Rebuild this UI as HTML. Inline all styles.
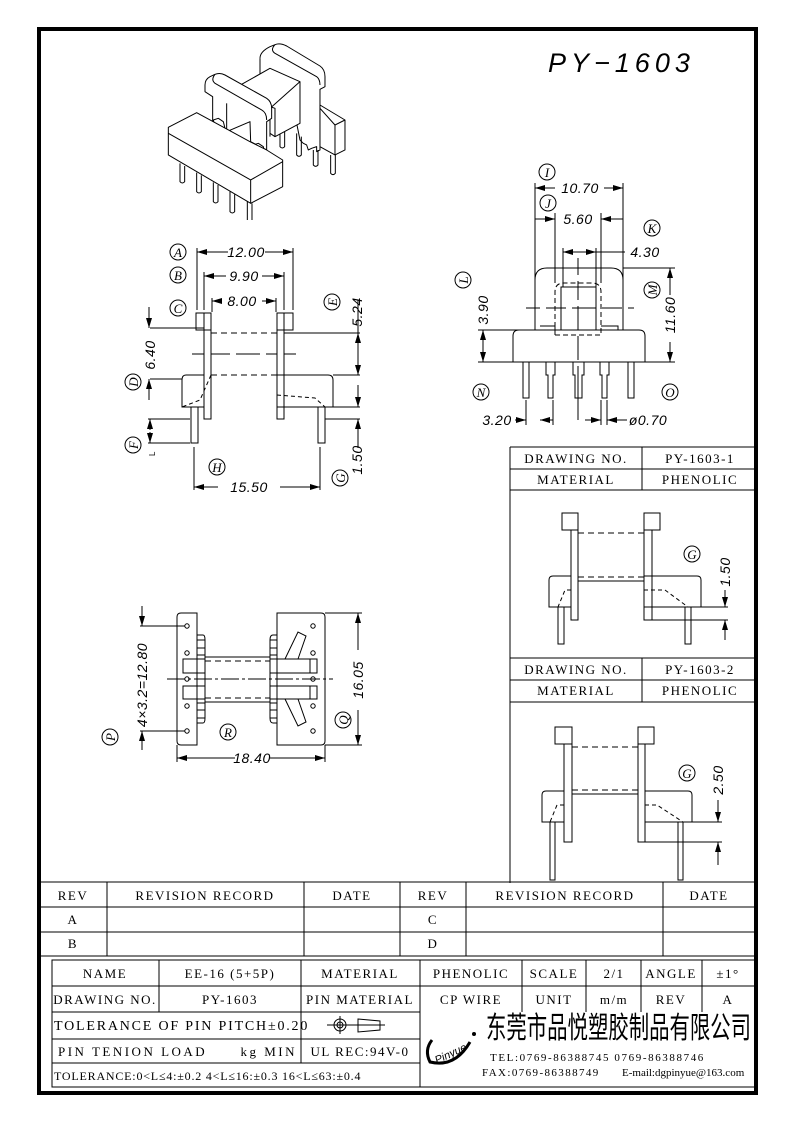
<!DOCTYPE html>
<html><head><meta charset="utf-8"><style>
html,body{margin:0;padding:0;background:#fff}
svg{display:block}
.t{font-family:"Liberation Serif","Noto Serif CJK SC",serif;font-size:13px;letter-spacing:1.5px}
.d{font-family:"Liberation Sans",sans-serif;font-style:italic;font-size:14px;letter-spacing:0.5px}
.c{font-family:"Liberation Serif",serif;font-style:italic;font-size:13px}
</style></head><body>
<svg width="793" height="1123" viewBox="0 0 793 1123" xmlns="http://www.w3.org/2000/svg">
<defs>
<marker id="a" viewBox="0 0 10 6" refX="10" refY="3" markerWidth="10" markerHeight="6" markerUnits="userSpaceOnUse" orient="auto-start-reverse"><path d="M0,0 L10,3 L0,6 z" fill="#000"/></marker>
</defs>
<rect x="0" y="0" width="793" height="1123" fill="#fff"/>
<rect x="39" y="29" width="717" height="1064" fill="none" stroke="#000" stroke-width="4"/>
<text x="548" y="72" font-family="Liberation Sans,sans-serif" font-style="italic" font-size="27" letter-spacing="5">PY−1603</text>

<g fill="none" stroke="#000" stroke-width="1">
<g transform="translate(160,40) scale(0.3333)" stroke-width="3" stroke-linejoin="round">
 <path d="M300,55 Q300,35 330,20 L345,14 Q360,8 380,18 L480,78 Q495,88 495,110 L495,140 L480,148 L480,330 L470,335 L470,320 L455,325 L445,330 L440,315 L430,310 L420,300 L410,250 L400,260 L395,250" fill="#fff"/>
 <path d="M300,55 L300,130"/>
 <path d="M345,14 Q330,30 345,40 L470,110 Q480,118 480,135"/>
 <path d="M480,195 L555,240 L555,330 L525,345 L480,320 Z" fill="#fff"/>
 <path d="M525,255 L555,240 M525,255 L525,345 M480,205 L525,255"/>
 <path d="M360,265 L360,320 Q367,328 374,320 L374,265"/>
 <path d="M410,280 L410,345 Q417,353 424,345 L424,290"/>
 <path d="M460,330 L460,375 Q467,383 474,375 L474,330"/>
 <path d="M512,345 L512,400 Q519,408 526,400 L526,345"/>
 <path d="M215,150 L330,85 L420,125 L420,250 L345,290 L330,280" fill="#fff"/>
 <path d="M330,205 L420,125 M330,205 L330,290"/>
 <path d="M330,200 L345,205 L345,290"/>
 <path d="M135,135 Q135,118 150,110 L165,103 Q180,97 195,105 L320,175 Q335,185 335,205 L335,235 L320,245 L320,330 L272,305 L270,245 L200,275 L158,250 L158,170 L135,155 Z" fill="#fff"/>
 <path d="M165,103 Q152,120 165,130 L305,210 Q320,218 320,240"/>
 <path d="M200,190 L200,270"/>
 <path d="M160,240 L175,235 L190,245 L195,265 L180,270 L165,260 Z" fill="#fff"/>
 <path d="M280,315 L295,310 L310,320 L313,335 L298,340 L283,330 Z" fill="#fff"/>
 <path d="M25,262 L110,218 L270,305 L320,330 L368,360 L368,440 L272,490 L25,345 Z" fill="#fff"/>
 <path d="M25,280 L272,420 L368,365 M272,420 L272,490"/>
 <path d="M60,370 L60,425 Q67,433 74,425 L74,378"/>
 <path d="M110,398 L110,455 Q117,463 124,455 L124,406"/>
 <path d="M160,427 L160,485 Q167,493 174,485 L174,435"/>
 <path d="M210,455 L210,515 Q217,523 224,515 L224,463"/>
 <path d="M262,484 L262,540 M276,490 L276,540"/>
</g>

<rect x="196" y="313" width="15" height="17"/>
<rect x="277" y="313" width="16" height="17"/>
<rect x="204" y="313" width="7" height="106"/>
<rect x="277" y="313" width="7" height="106"/>
<path d="M211,333 H277 M211,375 H277" stroke-dasharray="6,4"/>
<path d="M192,354 H204 M211,354 H230 M236,354 H260 M266,354 H277 M284,354 H296" />
<path d="M186,375 H204 L204,407 H182 V380 Q182,375 186,375 Z"/>
<path d="M277,375 H328 Q333,375 333,380 V407 H277"/>
<path d="M211,375 L200,400 L182,407" stroke-dasharray="4,3"/>
<path d="M277,395 L315,398 L325,407" stroke-dasharray="4,3"/>
<rect x="191" y="407" width="7" height="36"/>
<rect x="318" y="407" width="7" height="36"/>
<path d="M197,248 V310 M293,248 V310 M204,272 V310 M284,272 V310 M212,298 V312 M276,298 V312"/>
<path d="M197,252 H228 M265,252 H293" marker-start="url(#a)" marker-end="url(#a)"/>
<path d="M204,276 H226 M262,276 H284" marker-start="url(#a)" marker-end="url(#a)"/>
<path d="M212,301 H222 M262,301 H276" marker-start="url(#a)" marker-end="url(#a)"/>
<path d="M150,328 H204 M150,379 H182 M284,333 H360 M333,375 H360 M333,407 H360 M325,419 H360 M148,419 H190 M148,443 H190"/>
<path d="M149,307 V328" marker-end="url(#a)"/>
<path d="M149,400 V379" marker-end="url(#a)"/>
<path d="M358,300 V333" /><path d="M358,345 V375" marker-end="url(#a)"/><path d="M358,360 V333" marker-end="url(#a)"/>
<path d="M358,385 V407" marker-end="url(#a)"/><path d="M358,440 V419" marker-end="url(#a)"/><path d="M358,440 V448"/>
<path d="M150,430 V419" marker-end="url(#a)"/><path d="M150,432 V443" marker-end="url(#a)"/>
<path d="M194,447 V490 M320,447 V490"/>
<path d="M194,487 H218 M280,487 H320" marker-start="url(#a)" marker-end="url(#a)"/>

<path d="M535,330 V280 Q535,268 547,268 H611 Q623,268 623,280 V330"/>
<path d="M555,335 V292 Q555,283 564,283 H592 Q601,283 601,292 V335 Z" stroke-dasharray="5,3"/>
<rect x="561" y="287" width="35" height="43"/>
<path d="M540,326 H555 V330 M601,326 H618 V330"/>
<path d="M519,330 H639 Q645,330 645,336 V362 H513 V336 Q513,330 519,330 Z"/>
<path d="M578,258 V275 M578,281 V300 M578,306 V330 M578,336 V360 M578,366 V420" />
<path d="M526,308 H540 M546,308 H566 M572,308 H596 M602,308 H622 M628,308 H634"/>
<rect x="523" y="362" width="6" height="36"/>
<path d="M546,362 V375 H548 V398 H553 V375 H555 V362"/>
<path d="M573,362 V375 H575 V398 H582 V375 H584 V362"/>
<path d="M600,362 V375 H602 V398 H607 V375 H609 V362"/>
<rect x="628" y="362" width="6" height="36"/>
<path d="M535,183 V330 M623,183 V330 M555,213 V283 M601,213 V283 M563,248 V287 M596,248 V287"/>
<path d="M535,188 H555 M604,188 H623" marker-start="url(#a)" marker-end="url(#a)"/>
<path d="M535,219 H555" marker-end="url(#a)"/><path d="M623,219 H601" marker-end="url(#a)"/>
<path d="M563,252 H596" marker-start="url(#a)" marker-end="url(#a)"/><path d="M596,252 H625"/>
<path d="M478,330 H535 M478,362 H513 M623,268 H675 M645,362 H675"/>
<path d="M483,346 V330" marker-end="url(#a)"/><path d="M483,346 V362" marker-end="url(#a)"/>
<path d="M670,295 V268" marker-end="url(#a)"/><path d="M670,342 V362" marker-end="url(#a)"/>
<path d="M526,400 V425 M553,400 V425 M601,400 V425 M607,400 V425"/>
<path d="M515,420 H526" marker-end="url(#a)"/><path d="M553,420 H540" marker-end="url(#a)"/>
<path d="M585,420 H601" marker-end="url(#a)"/><path d="M627,420 H607" marker-end="url(#a)"/>

<path d="M197,613 H181 Q177,613 177,617 V741 Q177,745 181,745 H197 Z"/>
<path d="M277,613 H321 Q325,613 325,617 V741 Q325,745 321,745 H277 Z"/>
<path d="M197,635 H203 Q205,635 205,640 V718 Q205,723 203,723 H197 M277,635 H273 Q270,635 270,640 V718 Q270,723 273,723 H277"/>
<path d="M197,640 H205 M197,648 H205 M197,655 H205 M197,703 H205 M197,710 H205 M197,718 H205 M270,640 H277 M270,648 H277 M270,655 H277 M270,703 H277 M270,710 H277 M270,718 H277"/>
<rect x="183" y="659" width="22" height="14"/><rect x="183" y="686" width="22" height="13"/>
<rect x="270" y="659" width="47" height="14"/><rect x="270" y="686" width="47" height="13"/>
<path d="M310,659 V673 M310,686 V699"/>
<path d="M205,657 H270 M205,702 H270"/>
<path d="M205,661 H270 M205,698 H270" stroke-dasharray="6,4"/>
<path d="M167,679 H333" stroke-dasharray="18,3,3,3"/>
<path d="M285,659 L298,632 L306,636 L298,659 M285,699 L298,726 L306,722 L298,699"/>
<g fill="none"><circle cx="187" cy="626" r="2.2"/><circle cx="187" cy="653" r="2.2"/><circle cx="187" cy="679" r="2.2"/><circle cx="187" cy="706" r="2.2"/><circle cx="187" cy="731" r="2.2"/>
<circle cx="313" cy="626" r="2.2"/><circle cx="313" cy="653" r="2.2"/><circle cx="313" cy="679" r="2.2"/><circle cx="313" cy="706" r="2.2"/><circle cx="313" cy="731" r="2.2"/></g>
<path d="M140,626 H185 M140,731 H185 M325,613 H362 M325,745 H362 M177,745 V762 M325,745 V762"/>
<path d="M142,606 V626" marker-end="url(#a)"/><path d="M142,750 V731" marker-end="url(#a)"/>
<path d="M358,650 V613" marker-end="url(#a)"/><path d="M358,710 V745" marker-end="url(#a)"/>
<path d="M177,758 H235 M270,758 H325" marker-start="url(#a)" marker-end="url(#a)"/>

<path d="M510,447 H757 M510,447 V883 M510,469 H757 M510,490 H757 M510,658 H757 M510,680 H757 M510,702 H757 M642,447 V490 M642,658 V702"/>
<rect x="562" y="513" width="16" height="17"/><rect x="644" y="513" width="16" height="17"/>
<rect x="571" y="530" width="7" height="90"/><rect x="644" y="530" width="8" height="90"/>
<path d="M578,533 H644 M578,577 H644" stroke-dasharray="6,4"/><path d="M578,581 H644"/>
<path d="M553,576 H571 V607 H549 V580 Q549,576 553,576 Z M644,576 H697 Q701,576 701,580 V607 H644"/>
<path d="M571,590 H565 L558,607 M644,590 H665 L688,607" stroke-dasharray="4,3"/>
<rect x="558" y="607" width="6" height="37"/><rect x="685" y="607" width="6" height="37"/>
<path d="M691,607 H728 M652,620 H728"/>
<path d="M725,590 V607" marker-end="url(#a)"/><path d="M725,640 V620" marker-end="url(#a)"/>
<rect x="555" y="727" width="17" height="17"/><rect x="638" y="727" width="16" height="17"/>
<rect x="564" y="744" width="8" height="98"/><rect x="638" y="744" width="7" height="98"/>
<path d="M572,747 H638 M572,790 H638" stroke-dasharray="6,4"/><path d="M572,794 H638"/>
<path d="M546,791 H564 V822 H542 V795 Q542,791 546,791 Z M645,791 H688 Q692,791 692,795 V822 H645"/>
<path d="M564,805 H557 L550,822 M645,805 H657 L683,822" stroke-dasharray="4,3"/>
<rect x="550" y="822" width="5" height="58"/><rect x="678" y="822" width="5" height="58"/>
<path d="M683,822 H722 M645,842 H722"/>
<path d="M718,800 V822" marker-end="url(#a)"/><path d="M718,865 V842" marker-end="url(#a)"/>

<g>
<circle cx="178" cy="252" r="8"/><circle cx="178" cy="275" r="8"/><circle cx="178" cy="308" r="8"/>
<circle cx="332" cy="302" r="8"/><circle cx="133" cy="382" r="8"/><circle cx="133" cy="445" r="8"/>
<circle cx="217" cy="467" r="8"/><circle cx="340" cy="478" r="8"/>
<circle cx="547" cy="172" r="8"/><circle cx="548" cy="203" r="8"/><circle cx="652" cy="228" r="8"/>
<circle cx="463" cy="280" r="8"/><circle cx="652" cy="290" r="8"/><circle cx="481" cy="392" r="8"/><circle cx="670" cy="392" r="8"/>
<circle cx="110" cy="737" r="8"/><circle cx="343" cy="720" r="8"/><circle cx="228" cy="732" r="8"/>
<circle cx="692" cy="554" r="8"/><circle cx="687" cy="773" r="8"/>
</g>
</g>

<g class="c" text-anchor="middle">
<text x="178" y="257">A</text><text x="178" y="280">B</text><text x="178" y="313">C</text>
<text x="332" y="307" transform="rotate(-90 332 302)">E</text><text x="133" y="387" transform="rotate(-90 133 382)">D</text>
<text x="133" y="450" transform="rotate(-90 133 445)">F</text><text x="217" y="472">H</text><text x="340" y="483" transform="rotate(-90 340 478)">G</text>
<text x="547" y="177">I</text><text x="548" y="208">J</text><text x="652" y="233">K</text>
<text x="463" y="285" transform="rotate(-90 463 280)">L</text><text x="652" y="295" transform="rotate(-90 652 290)">M</text>
<text x="481" y="397">N</text><text x="670" y="397">O</text>
<text x="110" y="742" transform="rotate(-90 110 737)">P</text><text x="343" y="725" transform="rotate(-90 343 720)">Q</text><text x="228" y="737">R</text>
<text x="692" y="559">G</text><text x="687" y="778">G</text>
</g>

<g class="d" text-anchor="middle">
<text x="246" y="257">12.00</text><text x="244" y="281">9.90</text><text x="242" y="306">8.00</text>
<text x="155" y="355" transform="rotate(-90 155 355)">6.40</text>
<text x="362" y="312" transform="rotate(-90 362 312)">5.24</text>
<text x="362" y="460" transform="rotate(-90 362 460)">1.50</text>
<text x="249" y="492">15.50</text>
<text x="580" y="193">10.70</text><text x="578" y="224">5.60</text><text x="645" y="257">4.30</text>
<text x="488" y="310" transform="rotate(-90 488 310)">3.90</text>
<text x="675" y="315" transform="rotate(-90 675 315)">11.60</text>
<text x="497" y="425">3.20</text><text x="648" y="425">ø0.70</text>
<text x="147" y="685" transform="rotate(-90 147 685)">4×3.2=12.80</text>
<text x="363" y="680" transform="rotate(-90 363 680)">16.05</text>
<text x="252" y="763">18.40</text>
<text x="730" y="572" transform="rotate(-90 730 572)">1.50</text>
<text x="723" y="780" transform="rotate(-90 723 780)">2.50</text>
</g>
<text x="152" y="459" font-family="Liberation Sans,sans-serif" font-size="8" transform="rotate(-90 152 456)">L</text>

<g class="t" text-anchor="middle" font-size="12">
<text x="576" y="463">DRAWING NO.</text><text x="700" y="463">PY-1603-1</text>
<text x="576" y="484">MATERIAL</text><text x="700" y="484">PHENOLIC</text>
<text x="576" y="674">DRAWING NO.</text><text x="700" y="674">PY-1603-2</text>
<text x="576" y="695">MATERIAL</text><text x="700" y="695">PHENOLIC</text>
</g>

<g fill="none" stroke="#000" stroke-width="1">
<path d="M40,882 H756 M40,907 H756 M40,932 H756 M40,956 H756 M107,882 V956 M304,882 V956 M400,882 V956 M466,882 V956 M663,882 V956"/>
<rect x="52" y="960" width="703" height="127"/>
<path d="M52,986 H755 M52,1012 H420 M52,1039 H420 M52,1063 H420 M159,960 V1012 M301,960 V1063 M420,960 V1087 M522,960 V1012 M586,960 V1012 M641,960 V1012 M702,960 V1012"/>
<circle cx="340" cy="1025" r="6"/><circle cx="340" cy="1025" r="3"/>
<path d="M327,1025 H385 M340,1016 V1034 M358,1019 L380,1021 V1030 L358,1032 Z"/>
<path d="M470,1042 Q455,1068 430,1062 Q424,1050 432,1040" stroke-width="3"/>
</g>
<g class="t" text-anchor="middle">
<text x="73" y="900">REV</text><text x="205" y="900">REVISION RECORD</text><text x="352" y="900">DATE</text>
<text x="433" y="900">REV</text><text x="565" y="900">REVISION RECORD</text><text x="709" y="900">DATE</text>
<text x="73" y="924">A</text><text x="433" y="924">C</text><text x="73" y="948">B</text><text x="433" y="948">D</text>
<text x="105" y="978">NAME</text><text x="230" y="978">EE-16 (5+5P)</text><text x="360" y="978">MATERIAL</text>
<text x="471" y="978">PHENOLIC</text><text x="554" y="978">SCALE</text><text x="614" y="978">2/1</text><text x="671" y="978">ANGLE</text><text x="728" y="978">±1°</text>
<text x="105" y="1004">DRAWING NO.</text><text x="230" y="1004">PY-1603</text><text x="360" y="1004">PIN MATERIAL</text>
<text x="471" y="1004">CP WIRE</text><text x="554" y="1004">UNIT</text><text x="614" y="1004">m/m</text><text x="671" y="1004">REV</text><text x="728" y="1004">A</text>
<text x="360" y="1056">UL REC:94V-0</text>
</g>
<g class="t">
<text x="54" y="1030" font-size="14" letter-spacing="1.8">TOLERANCE OF PIN PITCH±0.20</text>
<text x="58" y="1056" letter-spacing="2.5">PIN TENION LOAD</text>
<text x="297" y="1056" text-anchor="end" letter-spacing="2.5">kg MIN</text>
<text x="54" y="1080" font-size="12" letter-spacing="0.8">TOLERANCE:0&lt;L≤4:±0.2  4&lt;L≤16:±0.3  16&lt;L≤63:±0.4</text>
<text x="490" y="1061" font-size="11" letter-spacing="1.6">TEL:0769-86388745   0769-86388746</text>
<text x="482" y="1076" font-size="11" letter-spacing="1.4">FAX:0769-86388749</text>
<text x="622" y="1076" font-size="11" letter-spacing="0">E-mail:dgpinyue@163.com</text>
</g>
<text transform="translate(486,1038) scale(0.68,1)" font-family="'Noto Sans CJK SC',sans-serif" font-size="30" letter-spacing="0">东莞市品悦塑胶制品有限公司</text>
<text x="432" y="1058" font-family="Liberation Sans,sans-serif" font-style="italic" font-size="11" transform="rotate(-25 448 1050)">Pinyue</text>
<circle cx="474" cy="1034" r="2" fill="#000"/>
</svg>
</body></html>
